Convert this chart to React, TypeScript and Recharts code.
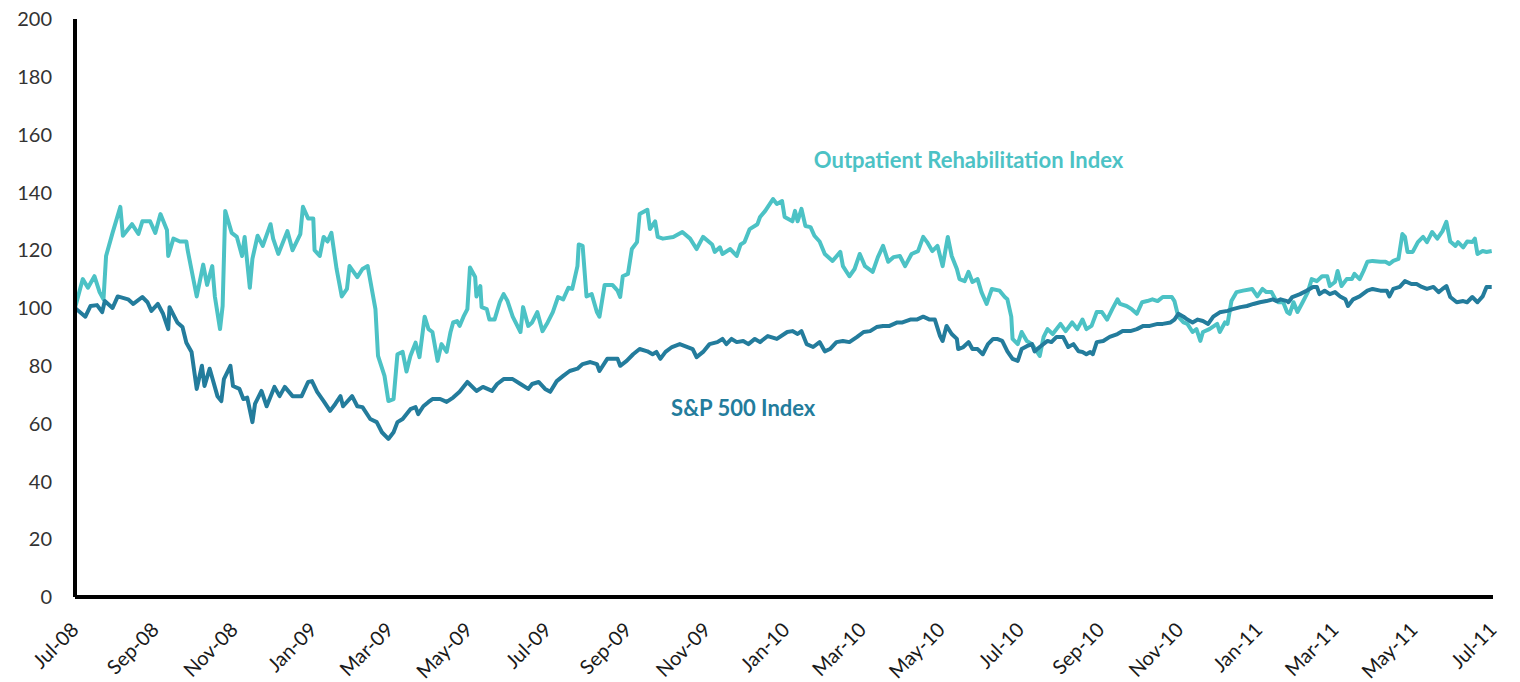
import React from 'react';
import { LineChart, Line, XAxis, YAxis, ReferenceDot } from 'recharts';

// Day offsets from 1 Jul 2008 and index values (rebased to 100)
const oriDays = [0,6,10,15,19,22,24,29,35,37,44,49,52,58,62,66,71,72,76,81,86,87,94,99,102,106,108,112,114,116,121,125,129,131,135,137,141,145,151,153,157,164,168,174,176,180,184,185,189,192,195,198,202,206,210,212,218,222,226,232,234,239,242,246,249,253,256,259,263,266,270,273,276,280,283,287,290,292,295,297,300,303,305,309,310,313,314,318,320,324,328,331,334,338,344,346,350,353,357,361,365,369,373,377,381,384,388,389,392,395,399,403,405,409,415,419,421,423,427,430,434,436,442,444,448,450,454,462,469,475,480,485,492,494,498,500,506,511,514,517,521,527,529,533,539,542,546,548,554,556,558,561,564,568,571,575,579,585,591,593,598,602,606,610,616,620,624,628,632,637,641,646,651,655,658,662,666,670,674,677,681,683,687,690,693,697,700,704,708,714,718,720,723,724,728,731,735,739,743,745,748,751,755,761,765,770,774,778,781,785,789,793,797,801,805,807,812,816,820,824,828,832,836,840,847,849,852,856,859,863,866,869,871,876,882,884,888,890,893,897,902,909,913,917,920,924,927,929,933,936,938,941,944,948,952,955,959,963,967,969,973,975,978,982,986,988,992,995,998,1002,1008,1012,1015,1018,1022,1025,1027,1029,1033,1037,1041,1044,1048,1052,1056,1059,1062,1066,1068,1072,1075,1079,1081,1083,1087,1090,1094];
const oriValues = [100,110,107,111,105.5,103,118,126,135,125,129,125.6,130,130,126,132.5,127,118,124,123,123,120,104,115,108,114.5,104,92.7,100.7,133.6,126,124.6,118,124.6,107,117,125,121.5,129,124,118.7,126.6,120,125.6,135,131,131,120,118,124.6,123,126,113.5,104,106.6,114.5,110.7,113.5,114.5,99.6,83.4,76.5,67.8,68.5,84,84.8,78,83.4,88,83,97,92.7,91.7,81.7,87.5,84.8,91.7,95,95.5,93.8,97,99.6,114,110.7,104,107.6,100.3,99.6,96,96,102,104.8,102.4,97,91.7,100.3,93.8,95,98.6,92,95,98.6,103.8,103,107,106.6,114.5,122,121.5,104,104.8,98.6,97,108,108,106,103.8,111,111.8,120.4,122.8,132.5,134,127.3,130,124.6,124,124.6,126.3,124,120.4,124.6,122,119.4,121,118.7,120.4,118,122,122.8,127.3,129,131.5,133.6,137.7,136,137,131.5,130,133.6,130,134.3,128.4,128,125,123,118.7,116.3,119.4,114.5,111,113.5,118.7,114.5,112.5,117.6,121.5,116,117.6,118,114.5,118.7,119.7,124.6,122.8,119.7,121.5,114.5,124.6,118,113.5,110,109.3,112.5,109,110,105.5,101.4,106.6,106,103.8,103,97,89.3,87.5,91.7,88.6,87.5,84.8,83.4,90,92.7,91,94.5,92,95,92.7,96,92.7,93.8,98.6,98.6,96,99.6,103,101.4,100.7,99.6,98,102,102.4,103,102.4,103.8,103.8,102.4,97,95,94.5,91.7,92.7,88.6,91.7,92.7,94.5,91.7,95,94.5,102.4,105.5,106,106.6,104,106.6,105.5,105.5,103,102,102,98.6,98,102,98.6,102,105.5,110,109.3,111,111,107.6,109,112.8,107.6,110,110,111.8,110,112.8,116,116.3,116,116,115.2,116.3,117,125.6,124.6,119.4,119.4,122.8,124.6,122.8,126.3,124,126.6,129.8,123,121.5,122.8,121,123,122.8,124,118.7,119.7,119.4,119.7];

const spDays = [0,8,12,17,21,23,29,33,41,45,52,56,59,64,68,72,73,79,83,86,90,94,98,100,104,110,113,115,120,122,127,130,133,137,139,144,148,154,158,162,168,175,180,183,187,192,197,201,205,207,214,218,222,228,233,237,242,246,249,253,259,263,265,269,273,276,282,287,292,297,303,310,315,322,326,331,338,344,350,353,358,363,367,372,377,382,388,392,398,403,405,411,419,421,426,431,436,442,446,449,452,456,461,467,473,477,480,485,490,496,500,503,507,511,516,520,525,529,535,542,550,554,558,561,565,570,575,579,583,588,593,598,604,609,614,619,624,629,635,639,645,650,655,660,664,668,670,673,677,681,682,686,690,693,697,701,705,709,712,716,720,724,728,731,735,739,741,745,751,754,758,763,767,771,775,778,781,784,786,789,794,799,805,809,815,820,825,830,836,840,846,849,852,856,859,863,867,871,875,879,884,890,894,900,905,910,915,920,925,928,931,936,937,940,946,951,956,959,961,965,969,973,977,981,983,987,992,998,1002,1008,1013,1015,1018,1023,1027,1032,1036,1040,1044,1049,1053,1056,1059,1062,1067,1072,1075,1079,1083,1087,1090,1094];
const spValues = [100,97,100.7,101,98.6,102.4,100,104,103,101.4,103.8,102,99,101.4,98,92.7,100.3,95,93.4,88,84.8,72,80,73,79,69.5,67.8,75.4,80,73,72,68.5,69,60.5,66.8,71.3,66,72.7,69.5,72.7,69.5,69.5,74.4,74.7,71,67.8,64.4,66.8,69.5,66,69.5,66,65.7,61.6,60.5,57,54.7,57,60.5,61.6,65,65.7,63.3,66,67.5,68.5,68.5,67.5,69,71,74.4,71.3,72.7,71.3,73.7,75.4,75.4,73.7,72,73.7,74.4,72,71,74.7,76.5,78.2,79,80.6,81.3,80.6,78.2,82.4,82.4,80,81.7,84,85.8,85,84,84.8,82.4,84.8,86.5,87.5,86.5,85.8,83,84.8,87.5,88.2,89.3,87.5,89.3,88.2,88.6,87.5,89.3,88.2,90.3,89.3,91.7,92,91,92,87.5,86.5,88.2,85,85.8,88.2,88.6,88.2,90,91.7,92,93.4,93.8,93.8,95,95,96,96,97,96,96,90.3,88.6,93.8,91,89.3,85.8,86.5,88.2,85.8,85.8,84,87.5,89.3,89.3,88.6,85,82.4,81.7,85.8,86.8,87.5,85,86.5,88.6,88.2,90,90,86.5,87.5,85,84.8,84,84.8,84,88.2,88.6,90,91,92,92,92.7,93.8,93.8,94.5,94.5,95,96,98,97,96,95,96,95.5,94.5,97,98.5,99,99.6,100.3,100.7,101.4,102,102.4,103,102.4,103,102.4,102,103.8,104.8,106,107.3,107.3,104.8,106,104.8,105.5,104,103,100.7,103,104,106,106.6,106,106,104,106.6,107.3,109.3,108.3,108.3,107.3,106.6,107.3,105.5,106.6,107.6,103.8,102,102.4,102,103.8,102,104,107.3,107.3];

const tickLabels = ['Jul-08','Sep-08','Nov-08','Jan-09','Mar-09','May-09','Jul-09','Sep-09','Nov-09','Jan-10','Mar-10','May-10','Jul-10','Sep-10','Nov-10','Jan-11','Mar-11','May-11','Jul-11'];
const yTicks = [0,20,40,60,80,100,120,140,160,180,200];

const seriesNames = ['Outpatient Rehabilitation Index', 'S&P 500 Index'];

const MONTHS = ['Jan','Feb','Mar','Apr','May','Jun','Jul','Aug','Sep','Oct','Nov','Dec'];
const START = Date.UTC(2008, 6, 1);
const labelToDay = (label: string) => {
  const [m, y] = label.split('-');
  return Math.round((Date.UTC(2000 + Number(y), MONTHS.indexOf(m), 1) - START) / 86400000);
};
const tickDays = tickLabels.map(labelToDay);
const dayToLabel: Record<number, string> = {};
tickDays.forEach((d, i) => { dayToLabel[d] = tickLabels[i]; });

const oriData = oriDays.map((d, i) => ({ day: d, value: oriValues[i] }));
const spData = spDays.map((d, i) => ({ day: d, value: spValues[i] }));

const LIGHT = '#4CC2C5';
const DARK = '#237C9C';
const FONT = 'Lato, "Open Sans", sans-serif';

const XTick = (props: any) => {
  const { x, y, payload } = props;
  const tx = x + 5;
  const ty = y + 34;
  return (
    <text x={tx} y={ty} transform={`rotate(-45, ${tx}, ${ty})`} textAnchor="end" fontSize={20} fontFamily={FONT} fill="#1a1a1a">
      {dayToLabel[payload.value] ?? ''}
    </text>
  );
};

export default function App() {
  return (
    <div style={{ position: 'absolute', left: 0, top: 0, width: 1520, height: 682, background: '#fff' }}>
      <LineChart width={1520} height={682} margin={{ top: 19, right: 27, left: 0, bottom: 0 }}>
        <XAxis
          type="number"
          dataKey="day"
          domain={[0, 1095]}
          ticks={tickDays}
          interval={0}
          height={85}
          tickLine={false}
          tickSize={0}
          tickMargin={0}
          axisLine={{ stroke: '#000', strokeWidth: 4 }}
          tick={<XTick />}
          allowDataOverflow
        />
        <YAxis
          type="number"
          domain={[0, 200]}
          ticks={yTicks}
          interval={0}
          width={75}
          tickLine={false}
          tickSize={0}
          tickMargin={23}
          axisLine={{ stroke: '#000', strokeWidth: 4 }}
          tick={{ fontSize: 20, fontFamily: FONT, fill: '#333' }}
        />
        <Line data={oriData} dataKey="value" name={seriesNames[0]} type="linear" stroke={LIGHT} strokeWidth={4} dot={false} activeDot={false} isAnimationActive={false} strokeLinejoin="round" />
        <Line data={spData} dataKey="value" name={seriesNames[1]} type="linear" stroke={DARK} strokeWidth={4} dot={false} activeDot={false} isAnimationActive={false} strokeLinejoin="round" />
        <ReferenceDot x={690} y={151.2} r={0} fill="none" stroke="none" ifOverflow="visible"
          label={{ value: seriesNames[0], position: 'center', fill: LIGHT, fontSize: 22, fontWeight: 700, fontFamily: FONT }} />
        <ReferenceDot x={516} y={65.4} r={0} fill="none" stroke="none" ifOverflow="visible"
          label={{ value: seriesNames[1], position: 'center', fill: DARK, fontSize: 22, fontWeight: 700, fontFamily: FONT }} />
      </LineChart>
    </div>
  );
}
